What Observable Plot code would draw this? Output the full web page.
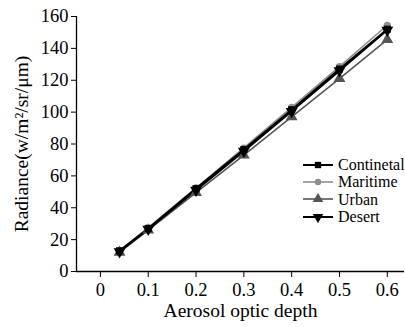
<!DOCTYPE html>
<html>
<head>
<meta charset="utf-8">
<script src="https://cdn.jsdelivr.net/npm/d3@7"></script>
<script src="https://cdn.jsdelivr.net/npm/@observablehq/plot@0.6"></script>
<style>
  html, body { margin: 0; padding: 0; background: #fff; }
  #wrap { position: relative; width: 405px; height: 327px; }
  #wrap, #wrap svg, #wrap svg text, #legend, #legend span { font-family: "Liberation Serif", "DejaVu Serif", serif !important; }
  #legend { position: absolute; left: 303px; top: 156px; font-size: 16px; line-height: 17.3px; color: #000; }
  #legend .row { display: flex; align-items: center; height: 17.3px; white-space: nowrap; }
  #legend svg { margin-right: 5px; }
</style>
</head>
<body>
<div id="wrap"><div id="legend"></div></div>
<script>
// Aerosol optic depth sampled for every aerosol type
const depth = [0.04, 0.1, 0.2, 0.3, 0.4, 0.5, 0.6];

// Simulated radiance (w/m²/sr/μm) per aerosol type
const continental = [13, 27, 52, 76.5, 101.5, 127, 152];
const maritime    = [13, 27.5, 52.5, 77.5, 103, 128.5, 154.5];
const urban       = [12, 26, 49.5, 73, 97, 121, 145.5];
const desert      = [12.5, 26.5, 51, 75.5, 100.5, 126, 151.5];

const seriesNames = ["Continetal", "Maritime", "Urban", "Desert"];
const yTicks = [0, 20, 40, 60, 80, 100, 120, 140, 160];
const xTicks = [0, 0.1, 0.2, 0.3, 0.4, 0.5, 0.6];

const styles = {
  Continetal: {stroke: "#000", width: 2, symbol: "square", r: 4, rotate: 0},
  Maritime:   {stroke: "#8e8e8e", width: 1.6, symbol: "circle", r: 3.6, rotate: 0},
  Urban:      {stroke: "#555", width: 1.6, symbol: "triangle", r: 4.4, rotate: 0},
  Desert:     {stroke: "#000", width: 2, symbol: "triangle", r: 4.4, rotate: 180}
};

const values = [continental, maritime, urban, desert];
const rows = seriesNames.flatMap((name, i) =>
  depth.map((d, j) => ({series: name, depth: d, radiance: values[i][j]})));

const drawOrder = ["Urban", "Maritime", "Desert", "Continetal"];
const lineMarks = drawOrder.map(name => Plot.line(rows.filter(r => r.series === name), {
  x: "depth", y: "radiance", stroke: styles[name].stroke, strokeWidth: styles[name].width
}));
const dotMarks = drawOrder.map(name => Plot.dot(rows.filter(r => r.series === name), {
  x: "depth", y: "radiance", symbol: styles[name].symbol, r: styles[name].r,
  rotate: styles[name].rotate, fill: styles[name].stroke, stroke: "none"
}));

const chart = Plot.plot({
  width: 405,
  height: 327,
  marginLeft: 76,
  marginRight: 1,
  marginTop: 16,
  marginBottom: 56,
  style: {fontFamily: "'Liberation Serif', 'DejaVu Serif', serif", background: "#fff", color: "#000"},
  x: {domain: [-0.05, 0.636]},
  y: {domain: [0, 160]},
  marks: [
    Plot.axisY({ticks: yTicks, tickSize: 5, tickPadding: 3, fontSize: 18.5, label: null, tickFormat: d => d}),
    Plot.axisX({ticks: xTicks, tickSize: 6, tickPadding: 5, fontSize: 18.5, label: null, tickFormat: d => d === 0 ? "0" : String(d)}),
    Plot.ruleY([0], {stroke: "#000", strokeWidth: 1.3}),
    Plot.ruleX([-0.05], {stroke: "#000", strokeWidth: 1.3}),
    Plot.text(["Aerosol optic depth"], {frameAnchor: "bottom", dy: 45, fontSize: 19.5, fill: "#000"}),
    Plot.text(["Radiance(w/m²/sr/μm)"], {frameAnchor: "left", textAnchor: "middle", dx: -55, rotate: -90, fontSize: 19.5, fill: "#000"}),
    ...lineMarks,
    ...dotMarks
  ]
});
document.getElementById("wrap").prepend(chart);

// Legend: short line with the series marker, followed by the name
const legend = document.getElementById("legend");
const symbolPath = {square: d3.symbolSquare, circle: d3.symbolCircle, triangle: d3.symbolTriangle};
for (const name of seriesNames) {
  const s = styles[name];
  const row = document.createElement("div");
  row.className = "row";
  const svg = d3.create("svg").attr("width", 30).attr("height", 12);
  svg.append("line").attr("x1", 0).attr("x2", 30).attr("y1", 6).attr("y2", 6)
    .attr("stroke", s.stroke).attr("stroke-width", s.width);
  svg.append("path")
    .attr("d", d3.symbol(symbolPath[s.symbol], Math.PI * s.r * s.r * 0.8)())
    .attr("transform", `translate(15,6) rotate(${s.rotate})`)
    .attr("fill", s.stroke);
  row.append(svg.node());
  const label = document.createElement("span");
  label.textContent = name;
  row.append(label);
  legend.append(row);
}
</script>
</body>
</html>
